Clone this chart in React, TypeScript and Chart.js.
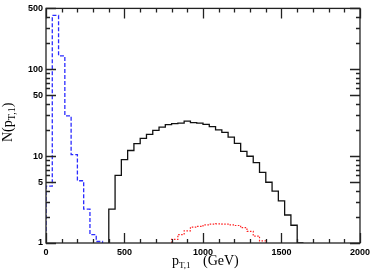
import React, { useEffect, useRef } from "react";
import { Chart, registerables } from "chart.js";

Chart.register(...registerables);

// ---- data (bin width 40 GeV) ----
const binWidth = 40;
const blueStart = 0;
const blueValues = [4.5, 415, 142, 29, 10.4, 5.2, 2.45, 1.25, 1.04];
const blackStart = 400;
const blackValues = [
  2.45, 6.0, 9.1, 11.6, 13.9, 16.0, 17.8, 19.8, 21.5, 23.0,
  23.6, 24.0, 25.2, 24.2, 24.0, 23.2, 21.8, 20.0, 18.7, 16.5,
  14.0, 11.3, 9.95, 8.4, 6.5, 5.0, 3.95, 3.05, 2.1, 1.6, 1.0,
];
const redStart = 800;
const redValues = [
  1.1, 1.25, 1.38, 1.52, 1.55, 1.62, 1.65, 1.66, 1.65, 1.62,
  1.59, 1.5, 1.36, 1.2, 1.06,
];
const xTickLabels = [0, 500, 1000, 1500, 2000];
const yTickLabels = [1, 5, 10, 50, 100, 500];

function histPoints(start: number, values: number[]) {
  const pts: { x: number; y: number }[] = [{ x: start, y: 1 }];
  values.forEach((v, i) => {
    const lo = start + i * binWidth;
    pts.push({ x: lo, y: v });
    pts.push({ x: lo + binWidth, y: v });
  });
  pts.push({ x: start + values.length * binWidth, y: 1 });
  return pts;
}

const framePlugin = {
  id: "frame",
  afterDraw(chart: any) {
    const { ctx, chartArea: a, scales } = chart;
    const xs = scales.x;
    const ys = scales.y;
    ctx.save();
    ctx.strokeStyle = "#222";
    ctx.lineWidth = 1.3;
    ctx.strokeRect(a.left, a.top, a.right - a.left, a.bottom - a.top);
    ctx.beginPath();
    for (let v = 0; v <= 2000; v += 100) {
      const px = Math.round(xs.getPixelForValue(v)) + 0.5;
      const len = v % 500 === 0 ? 10 : 4;
      ctx.moveTo(px, a.bottom);
      ctx.lineTo(px, a.bottom - len);
      ctx.moveTo(px, a.top);
      ctx.lineTo(px, a.top + len);
    }
    for (const d of [1, 10, 100]) {
      for (let m = 1; m <= 9; m++) {
        const v = m * d;
        if (v > 500) break;
        const py = Math.round(ys.getPixelForValue(v)) + 0.5;
        const len = m === 1 || m === 5 ? 10 : 4;
        ctx.moveTo(a.left, py);
        ctx.lineTo(a.left + len, py);
        ctx.moveTo(a.right, py);
        ctx.lineTo(a.right - len, py);
      }
    }
    ctx.stroke();

    // axis titles
    ctx.fillStyle = "#000";
    ctx.textBaseline = "alphabetic";
    ctx.textAlign = "left";
    const big = '14px "Liberation Serif", "DejaVu Serif", serif';
    const small = '9px "Liberation Serif", "DejaVu Serif", serif';
    ctx.font = big;
    let x = 172;
    ctx.fillText("p", x, 265);
    x += ctx.measureText("p").width;
    ctx.font = small;
    ctx.fillText("T,1", x, 268);
    ctx.font = big;
    ctx.fillText("(GeV)", 203, 265);

    ctx.translate(12, 142);
    ctx.rotate(-Math.PI / 2);
    const big2 = '14px "Liberation Serif", "DejaVu Serif", serif';
    const small2 = '10px "Liberation Serif", "DejaVu Serif", serif';
    ctx.font = big2;
    let t = 0;
    ctx.fillText("N(p", t, 0);
    t += ctx.measureText("N(p").width;
    ctx.font = small2;
    ctx.fillText("T,1", t, 3);
    t += ctx.measureText("T,1").width;
    ctx.font = big2;
    ctx.fillText(")", t, 0);
    ctx.restore();
  },
};

export default function App() {
  const ref = useRef<HTMLCanvasElement>(null);
  useEffect(() => {
    if (!ref.current) return;
    const tickFont = { family: '"Liberation Sans", Arial, sans-serif', size: 9, weight: "bold" as const };
    const chart = new Chart(ref.current, {
      type: "line",
      data: {
        datasets: [
          {
            data: histPoints(blueStart, blueValues),
            borderColor: "#2b2bff",
            borderWidth: 1.3,
            borderDash: [4, 2],
            pointRadius: 0,
            fill: false,
            tension: 0,
          },
          {
            data: histPoints(blackStart, blackValues),
            borderColor: "#111",
            borderWidth: 1.3,
            pointRadius: 0,
            fill: false,
            tension: 0,
          },
          {
            data: histPoints(redStart, redValues),
            borderColor: "#ff2020",
            borderWidth: 1.2,
            borderDash: [1.5, 1.5],
            pointRadius: 0,
            fill: false,
            tension: 0,
          },
        ],
      },
      options: {
        animation: false,
        responsive: false,
        events: [],
        layout: { padding: { left: 0, top: 3, right: 11, bottom: 0 } },
        plugins: { legend: { display: false }, tooltip: { enabled: false } },
        scales: {
          x: {
            type: "linear",
            min: 0,
            max: 2000,
            grid: { display: false, drawTicks: false },
            border: { display: false },
            afterBuildTicks: (s: any) => {
              s.ticks = xTickLabels.map((v) => ({ value: v }));
            },
            afterFit: (s: any) => {
              s.height = 28;
            },
            ticks: {
              autoSkip: false,
              maxRotation: 0,
              padding: 4,
              color: "#000",
              font: tickFont,
              callback: (v: any) => String(v),
            },
          },
          y: {
            type: "logarithmic",
            min: 1,
            max: 500,
            grid: { display: false, drawTicks: false },
            border: { display: false },
            afterBuildTicks: (s: any) => {
              s.ticks = yTickLabels.map((v) => ({ value: v }));
            },
            afterFit: (s: any) => {
              s.width = 46;
            },
            ticks: {
              autoSkip: false,
              padding: 3,
              color: "#000",
              font: tickFont,
              callback: (v: any) => String(v),
            },
          },
        },
      },
      plugins: [framePlugin],
    });
    return () => chart.destroy();
  }, []);
  return (
    <div style={{ position: "fixed", left: 0, top: 0, width: 374, height: 271, background: "#fff" }}>
      <canvas ref={ref} width={374} height={271} style={{ width: 374, height: 271, display: "block" }} />
    </div>
  );
}
